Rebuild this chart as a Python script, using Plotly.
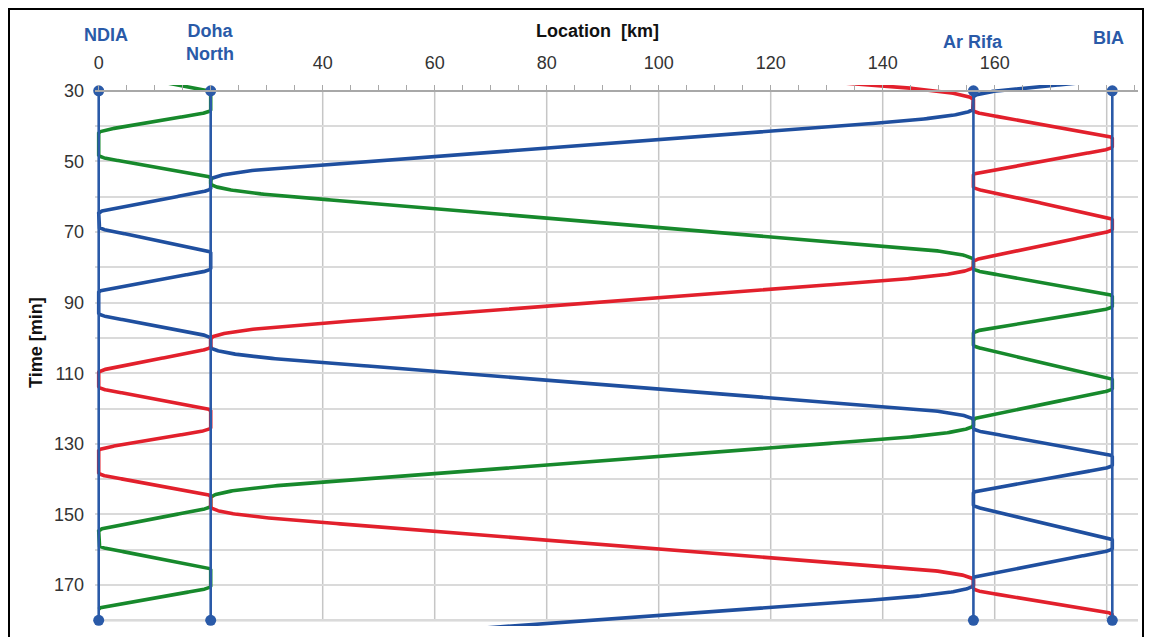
import numpy as np
import plotly.graph_objects as go

# ---------------- data ----------------
STATION_NAMES = ["NDIA", "Doha<br>North", "Ar Rifa", "BIA"]
STATION_KM = [0.0, 20.0, 156.2, 181.0]

X_TICKS = list(range(0, 190, 5))
X_LABELS = {0: "0", 40: "40", 60: "60", 80: "80", 100: "100", 120: "120", 140: "140", 160: "160"}
Y_TICKS = list(range(30, 190, 10))
Y_LABELS = {30: "30", 50: "50", 70: "70", 90: "90", 110: "110", 130: "130", 150: "150", 170: "170"}

# timetables: station index, arrival time [min], departure time [min]
BLUE_STOPS = [3, 2, 1, 0, 1, 0, 1, 2, 3, 2, 3, 2, 1]
BLUE_ARR = [None, 31.7, 55.3, 64.7, 75.9, 87.1, 100.1, 123.3, 133.7, 144.0, 157.3, 168.1, 189.8]
BLUE_DEP = [25.8, 35.0, 57.6, 68.5, 80.3, 93.0, 102.5, 125.6, 136.0, 147.3, 159.6, 170.0, None]

GREEN_STOPS = [0, 1, 0, 1, 2, 3, 2, 3, 2, 1, 0, 1, 0]
GREEN_ARR = [None, 30.5, 42.0, 54.8, 77.9, 88.3, 98.7, 111.9, 123.3, 145.3, 154.7, 165.7, 176.9]
GREEN_DEP = [23.7, 35.4, 48.2, 56.2, 80.3, 91.0, 102.0, 114.3, 124.7, 147.6, 158.7, 170.3, None]

RED_STOPS = [1, 2, 3, 2, 3, 2, 1, 0, 1, 0, 1, 2, 3]
RED_ARR = [None, 32.6, 43.5, 53.9, 66.6, 78.4, 100.3, 109.8, 120.7, 132.0, 145.0, 168.6, 178.5]
RED_DEP = [12.0, 35.5, 45.8, 57.2, 69.2, 79.8, 102.5, 113.8, 125.4, 138.2, 147.8, 170.9, None]

BLUE = "#1f4f9f"
GREEN = "#17892c"
RED = "#e2202c"
STATION_COLOR = "#2a5aa8"
FONT = "Liberation Sans, Arial, sans-serif"


def run_xy(xa, xb, t0, t1, accel):
    """Train run between two stops: accelerate, cruise, brake."""
    D = abs(xb - xa)
    T = t1 - t0
    disc = T * T - 4 * D / accel
    if disc >= 0:
        a = accel
        v = a * (T - np.sqrt(disc)) / 2
        ta = v / a
    else:
        ta = T / 2
        a = 4 * D / T ** 2
        v = a * ta
    tau = np.linspace(0, T, 240)
    s = np.where(tau < ta, 0.5 * a * tau ** 2,
                 np.where(tau <= T - ta, 0.5 * a * ta ** 2 + v * (tau - ta),
                          D - 0.5 * a * (T - tau) ** 2))
    return xa + np.sign(xb - xa) * s, t0 + tau


def train_path(stops, arr, dep):
    xs, ts = [], []
    for i, st in enumerate(stops):
        km = STATION_KM[st]
        if arr[i] is not None:
            xs.append(km)
            ts.append(arr[i])
        if dep[i] is not None:
            xs.append(km)
            ts.append(dep[i])
            nxt = STATION_KM[stops[i + 1]]
            accel = 2.0 if abs(nxt - km) > 60 else 3.0
            x, t = run_xy(km, nxt, dep[i], arr[i + 1], accel)
            xs.extend(x[1:-1].tolist())
            ts.extend(t[1:-1].tolist())
    return xs, ts


fig = go.Figure()

for stops, arr, dep, col in [(BLUE_STOPS, BLUE_ARR, BLUE_DEP, BLUE),
                             (GREEN_STOPS, GREEN_ARR, GREEN_DEP, GREEN),
                             (RED_STOPS, RED_ARR, RED_DEP, RED)]:
    xs, ts = train_path(stops, arr, dep)
    fig.add_trace(go.Scatter(x=xs, y=ts, mode="lines",
                             line=dict(color=col, width=3.6), hoverinfo="skip"))

# station lines
for km in STATION_KM:
    fig.add_trace(go.Scatter(x=[km, km], y=[Y_TICKS[0], Y_TICKS[-1]], mode="lines",
                             line=dict(color=STATION_COLOR, width=2.6), hoverinfo="skip"))
# station dots
fig.add_trace(go.Scatter(x=STATION_KM + STATION_KM,
                         y=[Y_TICKS[0]] * len(STATION_KM) + [Y_TICKS[-1]] * len(STATION_KM),
                         mode="markers", marker=dict(color=STATION_COLOR, size=11),
                         cliponaxis=False, hoverinfo="skip"))

# the page body adds an 8px offset; size the figure so it fills the window exactly
OFF = 8
W, H = 1153 - OFF, 637 - OFF
ML, MR, MT, MB = 95 - OFF, 15, 85 - OFF, 11
PW, PH = W - ML - MR, H - MB - MT


def px_x(p):
    return (p - OFF - ML) / PW


def px_y(p):
    return (H - MB - (p - OFF)) / PH


shapes = []
# vertical grid lines
for v in range(20, 190, 20):
    shapes.append(dict(type="line", xref="x", yref="y", x0=v, x1=v, y0=Y_TICKS[0], y1=Y_TICKS[-1],
                       line=dict(color="#c6c6c6", width=1.5), layer="below"))
# bottom axis line
shapes.append(dict(type="line", xref="paper", yref="y", x0=0, x1=1, y0=Y_TICKS[-1], y1=Y_TICKS[-1],
                   line=dict(color="#a8a8a8", width=2), layer="below"))
# outer frame
shapes.append(dict(type="rect", xref="paper", yref="paper",
                   x0=px_x(OFF + 1), x1=px_x(1143), y0=px_y(645), y1=px_y(OFF + 1),
                   line=dict(color="black", width=2), fillcolor="rgba(0,0,0,0)"))

annotations = []
label_shift = [7, -1, 0, -4]
label_py = [35, 42, 42, 38]
for name, km, sh, py in zip(STATION_NAMES, STATION_KM, label_shift, label_py):
    annotations.append(dict(x=km, xref="x", y=px_y(py), yref="paper", text=name, showarrow=False,
                            xshift=sh, xanchor="center", yanchor="middle",
                            font=dict(family=FONT, size=18, color=STATION_COLOR, weight="bold")))
annotations.append(dict(x=px_x(597), xref="paper", y=px_y(31), yref="paper", text="Location  [km]",
                        showarrow=False, xanchor="center", yanchor="middle",
                        font=dict(family=FONT, size=18, color="#111111", weight="bold")))
annotations.append(dict(x=px_x(36), xref="paper", y=px_y(343), yref="paper", text="Time [min]",
                        showarrow=False, textangle=-90, xanchor="center", yanchor="middle",
                        font=dict(family=FONT, size=18, color="#111111", weight="bold")))

x0_km = -0.66
x1_km = x0_km + PW / 5.6
y_top = 30 - (90.8 - OFF - MT) / 3.53
y_bot = y_top + PH / 3.53

fig.update_layout(
    width=W, height=H, autosize=False,
    margin=dict(l=ML, r=MR, t=MT, b=MB, autoexpand=False),
    paper_bgcolor="white", plot_bgcolor="white",
    showlegend=False,
    shapes=shapes, annotations=annotations,
    xaxis=dict(range=[x0_km, x1_km], side="top", anchor="free", automargin=False,
               position=(y_bot - 30) / (y_bot - y_top),
               tickvals=X_TICKS, ticktext=[X_LABELS.get(v, "") for v in X_TICKS],
               ticks="outside", ticklen=5, tickcolor="#a8a8a8", tickwidth=1,
               showline=True, linecolor="#a8a8a8", linewidth=2,
               showgrid=False, zeroline=False, ticklabelstandoff=9,
               tickfont=dict(family=FONT, size=18, color="#333333")),
    yaxis=dict(range=[y_bot, y_top], anchor="free", automargin=False,
               position=(0 - x0_km) / (x1_km - x0_km),
               tickvals=Y_TICKS, ticktext=[Y_LABELS.get(v, "") for v in Y_TICKS],
               ticks="outside", ticklen=4, tickcolor="rgba(0,0,0,0)",
               showline=False, showgrid=True, gridcolor="#dadada", gridwidth=1.5,
               zeroline=False, ticklabelstandoff=7,
               tickfont=dict(family=FONT, size=18, color="#333333")),
)

fig.write_html("out.html")
